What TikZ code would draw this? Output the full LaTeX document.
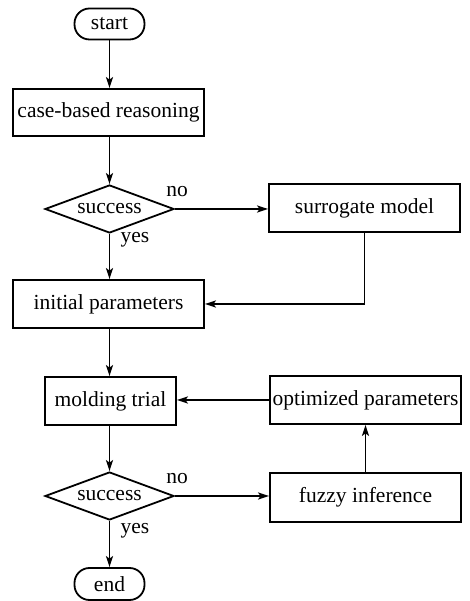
\documentclass[tikz,border=0pt]{standalone}
\usepackage{fontspec}
\setmainfont{Liberation Serif}
\newfontfamily\tnr{Liberation Serif}
\usetikzlibrary{shapes.geometric,arrows.meta}
\begin{document}
\begin{tikzpicture}[x=1pt,y=1pt,
  every node/.style={font=\tnr\fontsize{21.5}{25}\selectfont},
  box/.style={draw,line width=1.8pt,rectangle,minimum height=48pt,inner sep=2pt},
  term/.style={draw,line width=1.8pt,rectangle,rounded corners=15pt,minimum width=70pt,minimum height=31pt,inner sep=2pt},
  dec/.style={draw,line width=1.8pt,diamond,aspect=2.69,inner sep=0pt,minimum width=129pt,minimum height=48pt},
  arr/.style={line width=1.8pt,-{Stealth[length=11pt,width=7pt,inset=2.5pt]}},
  lbl/.style={inner sep=0pt}]
\useasboundingbox (0,0) rectangle (469,601);
\node[term] (start) at (109.5,577) {start};
\node[box,minimum width=191pt,minimum height=47pt] (cbr) at (108.5,488.5) {case-based reasoning};
\node[dec] (d1) at (109.5,392) {success};
\node[box,minimum width=191pt] (sur) at (364.5,393) {surrogate model};
\node[box,minimum width=191pt] (init) at (108.5,297) {initial parameters};
\node[box,minimum width=131pt] (mold) at (110.5,200) {molding trial};
\node[dec] (d2) at (109.5,105) {success};
\node[box,minimum width=191pt] (opt) at (365.5,201) {optimized parameters};
\node[box,minimum width=191pt,minimum height=49pt] (fuz) at (365.5,103.5) {fuzzy inference};
\node[term,minimum height=32pt] (end) at (109.5,17) {end};
\node[lbl] (no1) at (177,409) {no};
\node[lbl] (yes1) at (135,361) {yes};
\node[lbl] (no2) at (177,122) {no};
\node[lbl] (yes2) at (135,70) {yes};
\coordinate (c1) at (sur.south |- init.east);
\coordinate (a1) at (init.south -| d1.south);
\coordinate (a2) at (mold.north -| d1.south);
\draw[arr] (start.south) -- (start.south |- cbr.north);
\draw[arr] (cbr.south -| d1.north) -- (d1.north);
\draw[arr] (d1.south) -- (d1.south |- init.north);
\draw[arr] (d1.east) -- (d1.east -| sur.west);
\draw[arr] (sur.south) -- (c1) -- (init.east);
\draw[arr] (a1) -- (a2);
\draw[arr] (mold.south -| d2.north) -- (d2.north);
\draw[arr] (d2.south) -- (end.north);
\draw[arr] (d2.east) -- (d2.east -| fuz.west);
\draw[arr] (fuz.north) -- (opt.south);
\draw[arr] (opt.west) -- (opt.west -| mold.east);
\end{tikzpicture}
\end{document}
